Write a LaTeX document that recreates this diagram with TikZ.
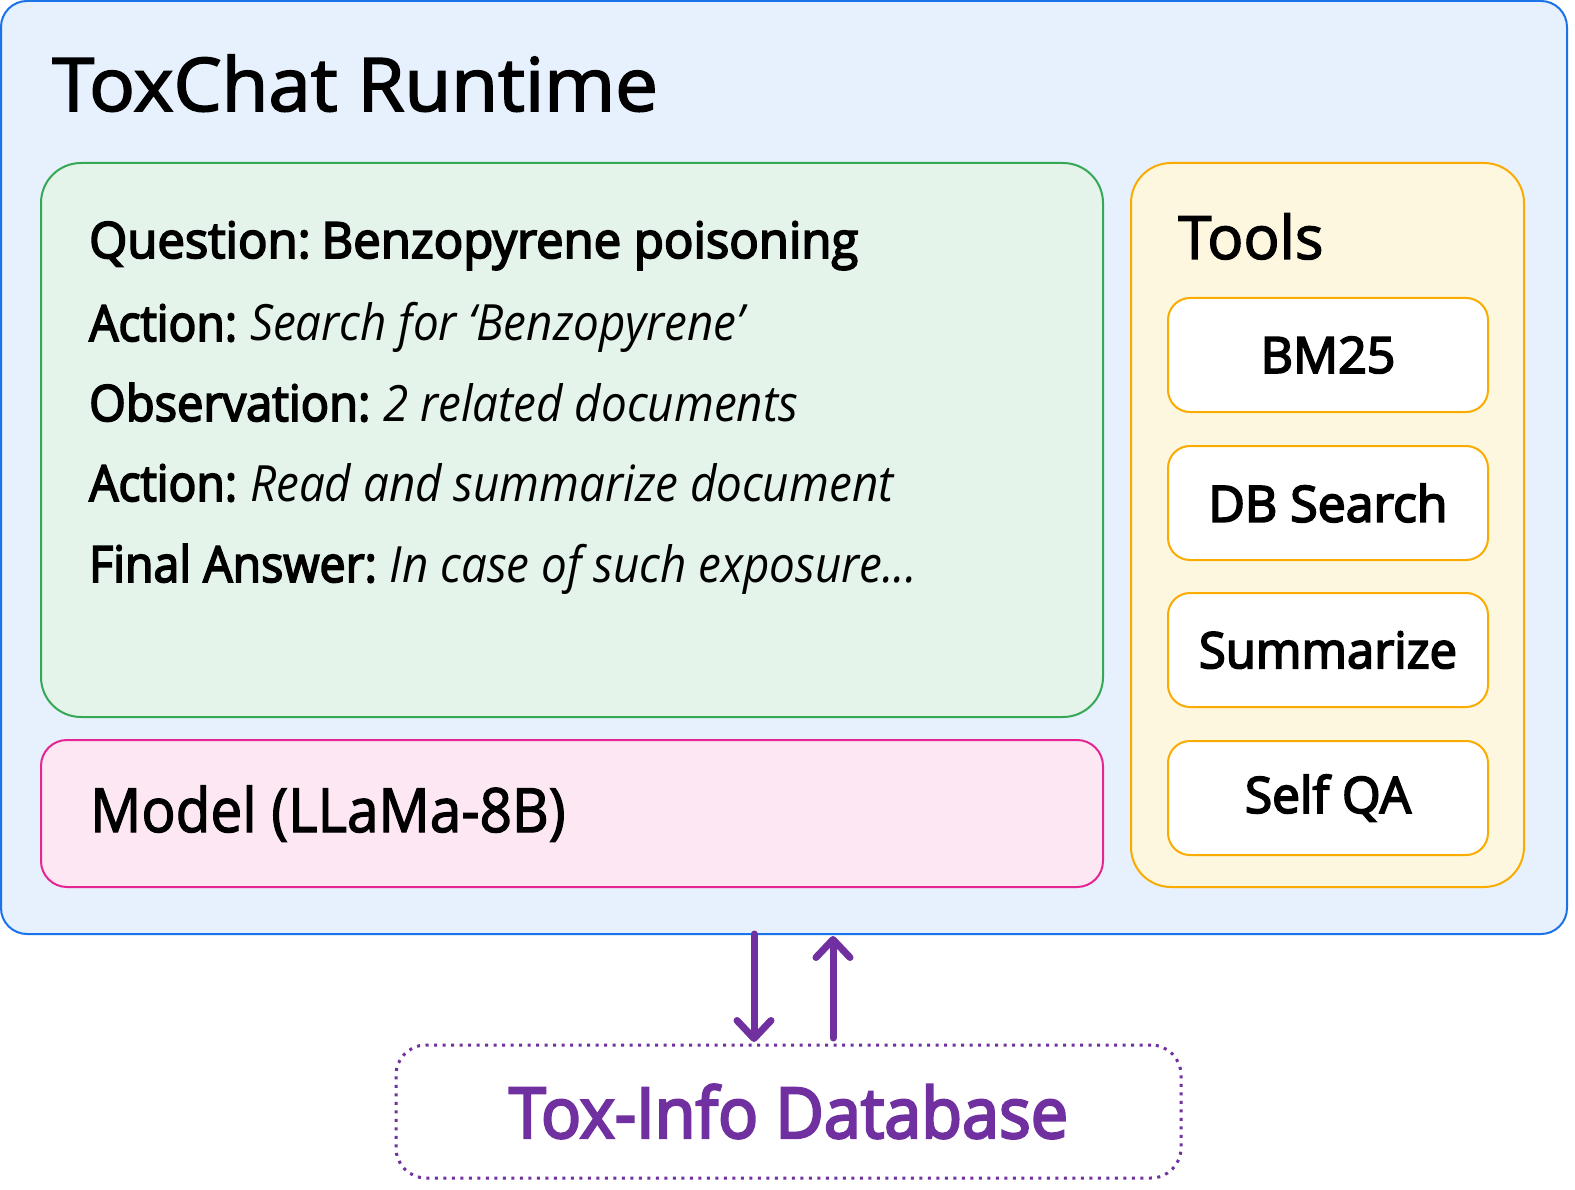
\documentclass[tikz,border=0pt]{standalone}
\usepackage{fontspec}
\usepackage{graphicx}
\setmainfont{Open Sans}
\newfontfamily\semib{Open Sans}[FakeBold=3.6]
\newfontfamily\medf{Open Sans}[FakeBold=2.2]
\usetikzlibrary{arrows.meta}
\definecolor{outerfill}{HTML}{E7F0FD}
\definecolor{outerdraw}{HTML}{1A73E8}
\definecolor{greenfill}{HTML}{E5F4EA}
\definecolor{greendraw}{HTML}{34A853}
\definecolor{pinkfill}{HTML}{FCE7F3}
\definecolor{pinkdraw}{HTML}{E52592}
\definecolor{toolfill}{HTML}{FEF7E0}
\definecolor{tooldraw}{HTML}{F9AB00}
\definecolor{purp}{HTML}{7030A0}
\newcommand{\fs}[1]{\fontsize{#1}{#1}\selectfont}
\newcommand{\hs}[2]{\scalebox{#1}[1]{#2}}
\newcommand{\lab}[1]{{\semib #1}}
\begin{document}
\begin{tikzpicture}[x=1pt,y=-1pt,
  panel/.style={line width=2pt},
  toolbox/.style={draw=tooldraw,fill=white,line width=2pt,rounded corners=22pt,minimum width=320pt,minimum height=114pt,inner sep=0pt,font=\fs{50}\semib},
  txt/.style={anchor=base west,inner sep=0pt},
  flow/.style={draw=purp,line width=7pt,line cap=round,-{Straight Barb[length=18pt,width=34pt,line cap=round,line join=round]}}
]
\useasboundingbox (0,0) rectangle (1575,1190);
% outer
\draw[panel,draw=outerdraw,fill=outerfill,rounded corners=26pt] (1,1) rectangle (1567,934);
\node[txt,font=\fs{74}\medf] (title) at (52,111) {\hs{1.03}{ToxChat Runtime}};
% green
\draw[panel,draw=greendraw,fill=greenfill,rounded corners=40pt] (41,163) rectangle (1103,717);
\node[txt,font=\fs{50}] (q) at (89,258) {\hs{0.98}{\lab{Question:\hspace{0.22em}Benzopyrene poisoning}}};
\node[txt,font=\fs{50}] (a1) at (89,341) {\hs{0.925}{\lab{Action:}} \hs{0.915}{\textit{Search for ‘Benzopyrene’}}};
\node[txt,font=\fs{50}] (o1) at (89,421) {\hs{0.94}{\lab{Observation:}} \hs{0.915}{\textit{2 related documents}}};
\node[txt,font=\fs{50}] (a2) at (89,501) {\hs{0.925}{\lab{Action:}} \hs{0.915}{\textit{Read and summarize document}}};
\node[txt,font=\fs{50}] (fa) at (89,582) {\hs{0.93}{\lab{Final Answer:}} \hs{0.915}{\textit{In case of such exposure...}}};
% pink
\draw[panel,draw=pinkdraw,fill=pinkfill,rounded corners=26pt] (41,740) rectangle (1103,887);
\node[txt,font=\fs{61}\medf] (model) at (90,832) {\hs{0.93}{Model (LLaMa-8B)}};
% tools
\draw[panel,draw=tooldraw,fill=toolfill,rounded corners=40pt] (1131,163) rectangle (1524,887);
\node[txt,font=\fs{60}\medf] (tools) at (1178,259) {Tools};
\node[toolbox] (bm) at (1328,355) {BM25};
\node[toolbox] (db) at (1328,503) {DB Search};
\node[toolbox] (sum) at (1328,650) {\hs{0.98}{Summarize}};
\node[toolbox] (sqa) at (1328,798) {\hs{0.99}{Self QA}};
% database
\node[draw=purp,line width=3pt,dash pattern=on 3pt off 5.5pt,rounded corners=30pt,minimum width=785pt,minimum height=133pt,inner sep=0pt,text=purp,font=\fs{70}\semib] (toxdb) at (788.5,1111.5) {\hs{0.95}{Tox-Info Database}};
\coordinate (d1) at (754,934);
\coordinate (u1) at (833,1038);
\draw[flow] (d1) -- (754,1042);
\draw[flow] (u1) -- (833,936);
\end{tikzpicture}
\end{document}
